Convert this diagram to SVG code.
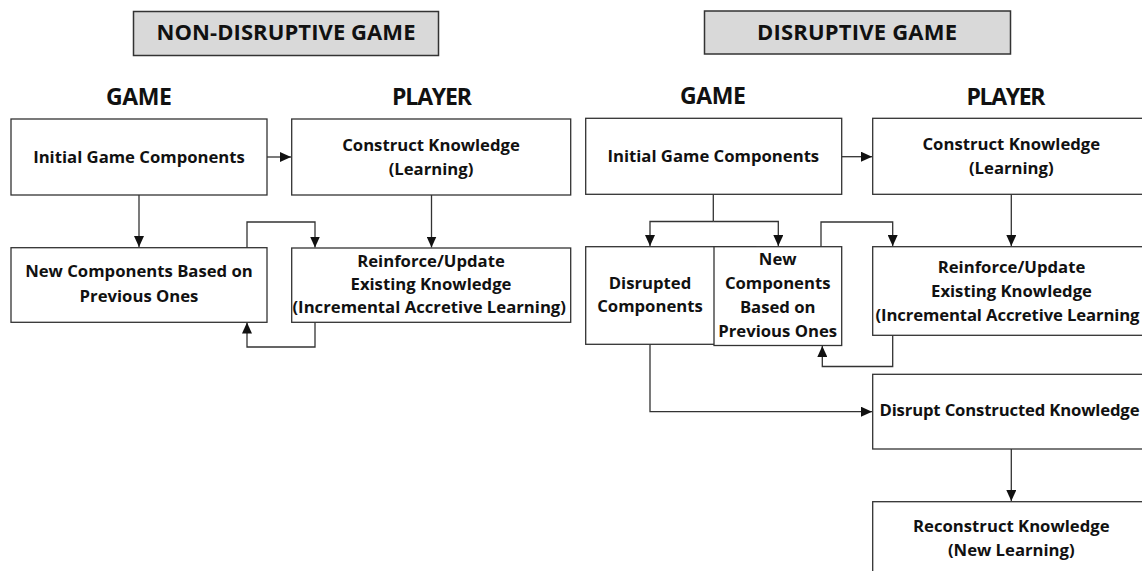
<svg xmlns="http://www.w3.org/2000/svg" width="1142" height="571" viewBox="0 0 1142 571">
<style>
  .box { fill: #ffffff; stroke: #333333; stroke-width: 1.3; }
  .title { fill: #d9d9d9; stroke: #333333; stroke-width: 1.5; }
  .t { font-family: "Open Sans", "Liberation Sans", sans-serif; font-weight: 700; font-size: 16.7px; fill: #111111; text-anchor: middle; }
  .h { font-family: "Open Sans", "Liberation Sans", sans-serif; font-weight: 700; font-size: 23px; fill: #111111; text-anchor: middle; }
  .ht { font-family: "Open Sans", "Liberation Sans", sans-serif; font-weight: 700; font-size: 22px; fill: #111111; text-anchor: middle; }
  .c { fill: none; stroke: #333333; stroke-width: 1.3; }
  .ca { fill: none; stroke: #333333; stroke-width: 1.3; marker-end: url(#arr); }
</style>
<defs>
  <marker id="arr" markerUnits="userSpaceOnUse" markerWidth="11" markerHeight="10" refX="11" refY="5" orient="auto">
    <path d="M0,0 L11,5 L0,10 z" fill="#111111"/>
  </marker>
</defs>
<rect width="1142" height="571" fill="#ffffff"/>

<!-- Headings -->
<g id="title-nondisruptive">
  <rect class="title" x="133.5" y="11.5" width="305" height="44"/>
  <text class="ht" x="286" y="40" textLength="259">NON-DISRUPTIVE GAME</text>
</g>
<g id="title-disruptive">
  <rect class="title" x="704.5" y="11" width="306" height="43"/>
  <text class="ht" x="857" y="39.5" textLength="200">DISRUPTIVE GAME</text>
</g>
<g id="label-game-left"><text class="h" x="139" y="104.5" textLength="66">GAME</text></g>
<g id="label-player-left"><text class="h" x="432" y="104.5" textLength="80">PLAYER</text></g>
<g id="label-game-right"><text class="h" x="713" y="104" textLength="66">GAME</text></g>
<g id="label-player-right"><text class="h" x="1006" y="104.5" textLength="79">PLAYER</text></g>

<!-- Connectors -->
<g id="connectors">
  <!-- non-disruptive -->
  <path class="ca" d="M267,157 H291"/>
  <path class="ca" d="M139,195 V247"/>
  <path class="ca" d="M431.5,195 V247.5"/>
  <path class="ca" d="M247,248 V222 H315 V247.5"/>
  <path class="ca" d="M315,322 V347 H247 V322.5"/>
  <!-- disruptive -->
  <path class="ca" d="M841.7,156.7 H872"/>
  <path class="c" d="M713.3,194.3 V221.5"/>
  <path class="ca" d="M713.3,221.5 H650 V246"/>
  <path class="ca" d="M713.3,221.5 H778.3 V246"/>
  <path class="ca" d="M821,246.7 V222 H892.7 V246"/>
  <path class="ca" d="M1011.3,194.3 V246"/>
  <path class="ca" d="M892.7,335.3 V366.5 H822.3 V346"/>
  <path class="ca" d="M650,344.3 V411.7 H872"/>
  <path class="ca" d="M1011.3,449 V501"/>
</g>

<!-- Non-disruptive nodes -->
<g id="nd-initial">
  <rect class="box" x="11" y="119" width="256" height="76"/>
  <text class="t" x="139" y="163">Initial Game Components</text>
</g>
<g id="nd-construct">
  <rect class="box" x="291.7" y="119" width="279" height="76"/>
  <text class="t" x="431" y="151">Construct Knowledge</text>
  <text class="t" x="431" y="175">(Learning)</text>
</g>
<g id="nd-new">
  <rect class="box" x="11" y="247.7" width="256" height="74.6"/>
  <text class="t" x="139" y="277.3">New Components Based on</text>
  <text class="t" x="139" y="301.7">Previous Ones</text>
</g>
<g id="nd-reinforce">
  <rect class="box" x="291.7" y="248" width="279" height="74.3"/>
  <text class="t" x="431" y="266.7">Reinforce/Update</text>
  <text class="t" x="431" y="290">Existing Knowledge</text>
  <text class="t" x="429.2" y="313.3" textLength="273.5">(Incremental Accretive Learning)</text>
</g>

<!-- Disruptive nodes -->
<g id="d-initial">
  <rect class="box" x="585.7" y="118.3" width="256" height="76"/>
  <text class="t" x="713.3" y="162">Initial Game Components</text>
</g>
<g id="d-construct">
  <rect class="box" x="872.7" y="118.3" width="278" height="76"/>
  <text class="t" x="1011.3" y="150">Construct Knowledge</text>
  <text class="t" x="1011.3" y="174">(Learning)</text>
</g>
<g id="d-disrupted">
  <rect class="box" x="585.7" y="246.7" width="170" height="97.6"/>
  <text class="t" x="650" y="289">Disrupted</text>
  <text class="t" x="650" y="312.3">Components</text>
</g>
<g id="d-new">
  <rect class="box" x="714" y="246.7" width="127.7" height="98.8"/>
  <text class="t" x="777.7" y="265">New</text>
  <text class="t" x="777.7" y="289">Components</text>
  <text class="t" x="777.7" y="313.3">Based on</text>
  <text class="t" x="777.7" y="337">Previous Ones</text>
</g>
<g id="d-reinforce">
  <rect class="box" x="872.7" y="246.7" width="278" height="88.6"/>
  <text class="t" x="1011.5" y="272.5">Reinforce/Update</text>
  <text class="t" x="1011.5" y="296.5">Existing Knowledge</text>
  <text class="t" x="1007.5" y="320.5" textLength="264">(Incremental Accretive Learning</text>
</g>
<g id="d-disrupt">
  <rect class="box" x="872.7" y="374.3" width="278" height="74.7"/>
  <text class="t" x="1009.5" y="416" textLength="260">Disrupt Constructed Knowledge</text>
</g>
<g id="d-reconstruct">
  <rect class="box" x="872.7" y="501.7" width="278" height="80"/>
  <text class="t" x="1011.3" y="532">Reconstruct Knowledge</text>
  <text class="t" x="1011.3" y="556">(New Learning)</text>
</g>
</svg>
